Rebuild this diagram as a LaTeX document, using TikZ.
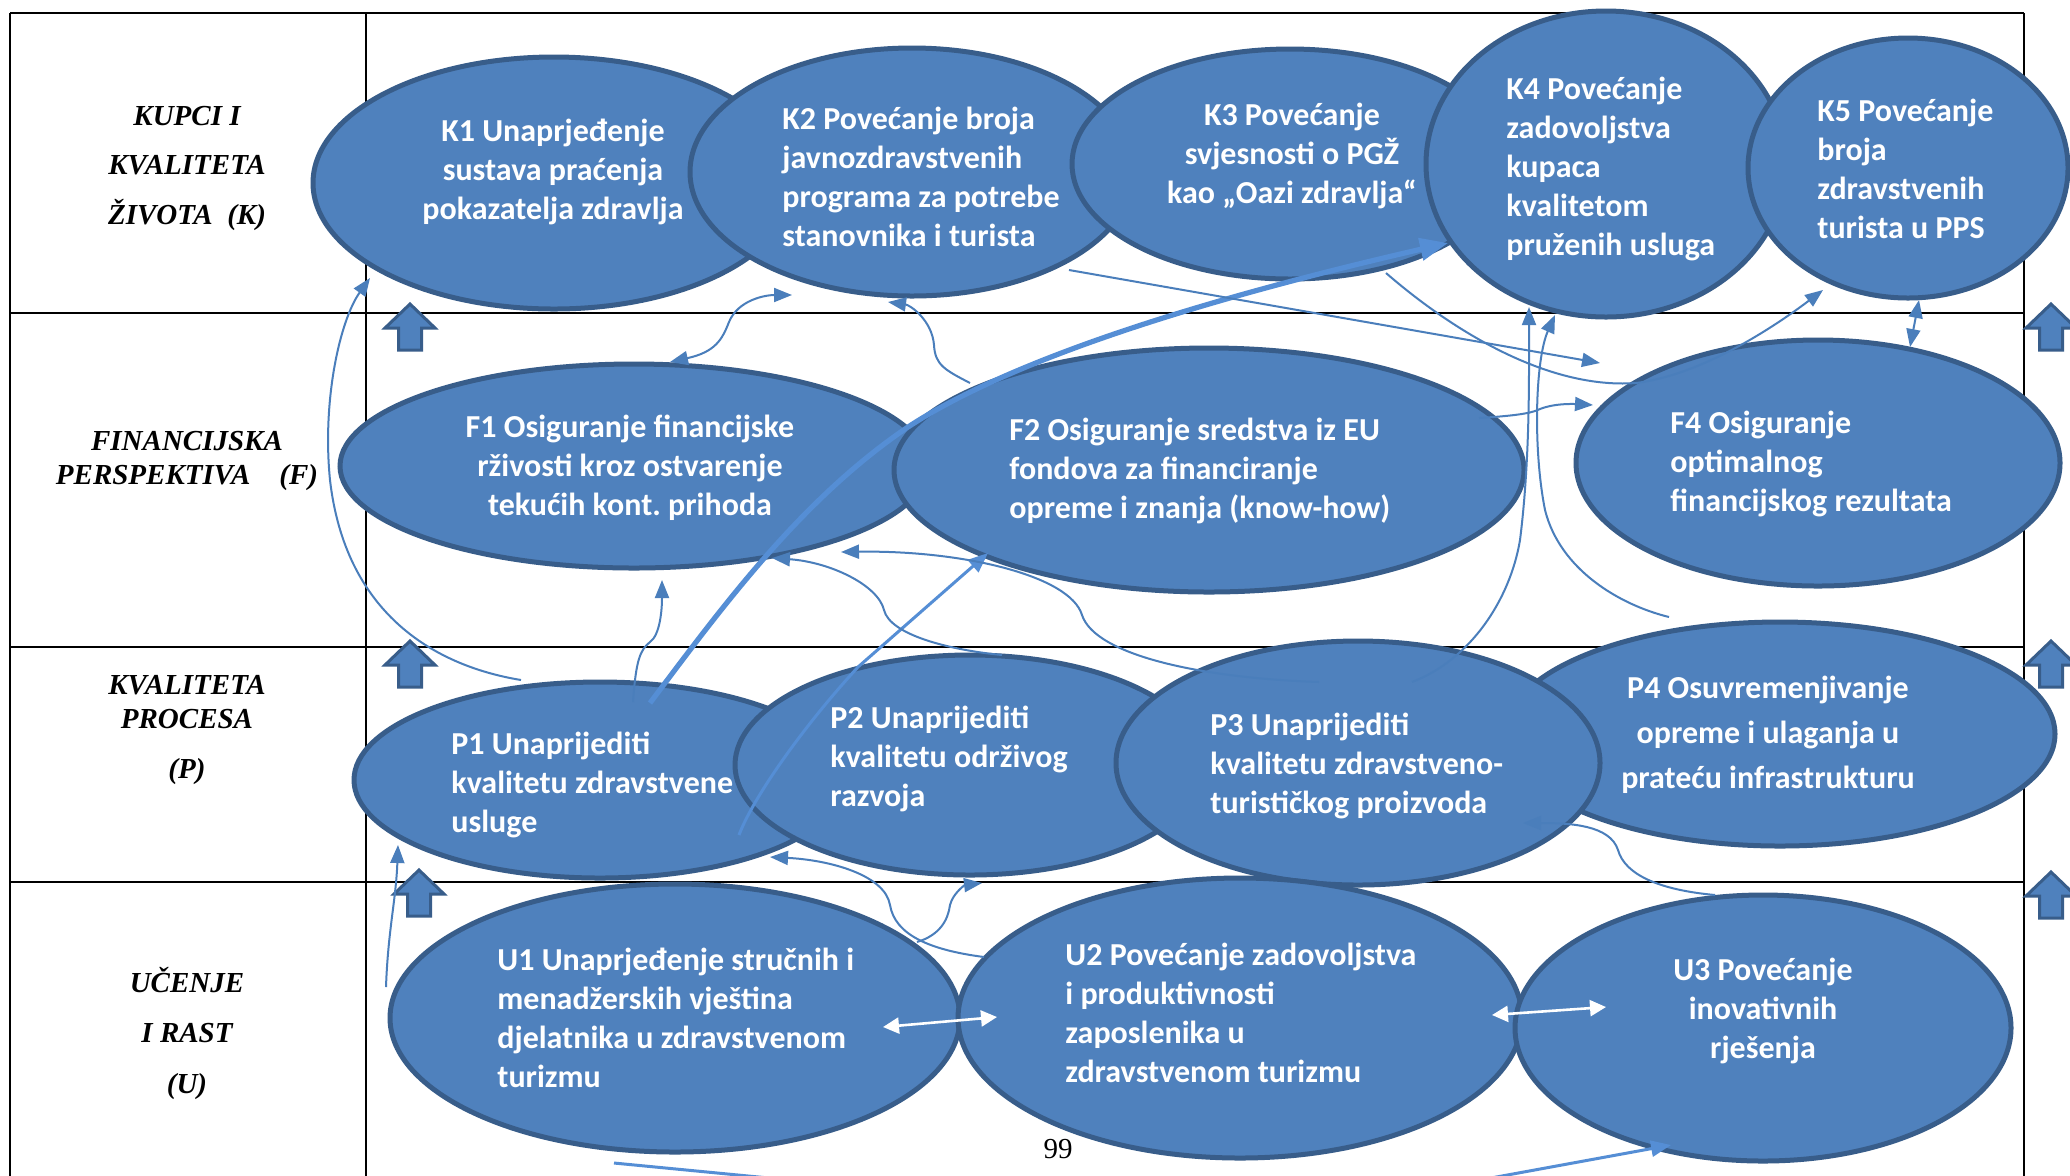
\documentclass[tikz,border=0pt]{standalone}
\usepackage{fontspec}
\setmainfont{Liberation Serif}
\newfontfamily\calib{Carlito}
\usetikzlibrary{arrows.meta,calc,shapes.geometric}
\definecolor{ofill}{HTML}{4F81BD}
\definecolor{oline}{HTML}{385D8A}
\definecolor{conn}{HTML}{4A7EBB}
\definecolor{connb}{HTML}{558ED5}
\begin{document}
\begin{tikzpicture}[x=0.5pt,y=-0.5pt,
  oval/.style={ellipse, draw=oline, fill=ofill, line width=2.5pt, inner sep=0pt},
  otext/.style={font=\calib\bfseries\fontsize{16}{19.5}\selectfont, text=white, inner sep=0pt},
  otextw/.style={otext, align=left, anchor=west},
  otextc/.style={otext, align=center},
  lab/.style={font=\bfseries\itshape\fontsize{14.5}{17}\selectfont, anchor=base, inner sep=0pt},
  gridline/.style={line width=1.1pt, black},
  conn/.style={draw=conn, line width=1pt, -{Triangle[length=9pt,width=7pt]}},
  dconn/.style={draw=conn, line width=1pt, {Triangle[length=9pt,width=7pt]}-{Triangle[length=9pt,width=7pt]}},
  thickconn/.style={draw=connb, line width=2.6pt, -{Triangle[length=14pt,width=11pt]}},
  medconn/.style={draw=connb, line width=1.5pt, -{Triangle[length=10pt,width=8pt]}},
  medline/.style={draw=connb, line width=1.5pt},
  wconn/.style={draw=white, line width=1.3pt, {Triangle[length=8pt,width=8pt]}-{Triangle[length=8pt,width=8pt]}},
  uparr/.pic={\draw[fill=ofill, draw=oline, line width=1.5pt] (0,0) -- (25,24) -- (11.5,24) -- (11.5,46) -- (-11.5,46) -- (-11.5,24) -- (-25,24) -- cycle;}
]
\useasboundingbox (0,0) rectangle (2070,1175);
\clip (0,0) rectangle (2070,1175);
\fill[white] (0,0) rectangle (2070,1175);

% grid
\draw[gridline] (10,13) -- (2024,13);
\draw[gridline] (10,313) -- (2024,313);
\draw[gridline] (10,647) -- (2024,647);
\draw[gridline] (10,882) -- (2024,882);
\draw[gridline] (10,13) -- (10,1180);
\draw[gridline] (366,13) -- (366,1180);
\draw[gridline] (2024,13) -- (2024,1180);

% block arrows
\pic at (410,304) {uparr};
\pic at (410,641) {uparr};
\pic at (419,870) {uparr};
\pic at (2051,304) {uparr};
\pic at (2051,641) {uparr};
\pic at (2051,872) {uparr};

% ellipses
\node[oval, minimum width=241pt, minimum height=126pt] (K1) at (554,183) {};
\node[oval, minimum width=222pt, minimum height=124pt] (K2) at (912,172) {};
\node[oval, minimum width=218pt, minimum height=115pt] (K3) at (1290,164) {};
\node[oval, minimum width=180pt, minimum height=153pt] (K4) at (1606,164) {};
\node[oval, minimum width=160pt, minimum height=130pt] (K5) at (1908,168) {};
\node[oval, minimum width=294pt, minimum height=102pt] (F1) at (634,466) {};
\node[oval, minimum width=315pt, minimum height=122pt] (F2) at (1209,470) {};
\node[oval, minimum width=242pt, minimum height=123pt] (F4) at (1818,463) {};
\node[oval, minimum width=246pt, minimum height=98pt] (P1) at (600,780) {};
\node[oval, minimum width=235pt, minimum height=110pt] (P2) at (970,765) {};
\node[oval, minimum width=275pt, minimum height=112pt] (P4) at (1780,734) {};
\node[oval, minimum width=242pt, minimum height=122pt] (P3) at (1358,763) {};
\node[oval, minimum width=285pt, minimum height=134pt] (U1) at (675,1018) {};
\node[oval, minimum width=282pt, minimum height=140pt] (U2) at (1240,1018) {};
\node[oval, minimum width=248pt, minimum height=133pt] (U3) at (1763,1028) {};

% connectors
\draw[conn] ($(P1.center)+(-79,-100)$) .. controls (430,665) and (345,610) .. (330,480) .. controls (322,400) and (340,320) .. ($(K1.center)+(-184,95)$);
\draw[conn] ($(P1.center)+(33,-78)$) .. controls (636,660) and (640,650) .. (650,642) .. controls (660,635) and (662,610) .. ($(F1.center)+(28,114)$);
\draw[thickconn] ($(P1.center)+(50,-77)$) .. controls (720,610) and (800,500) .. (908,427) .. controls (1010,360) and (1200,300) .. ($(K4.center)+(-158,79)$);
\draw[medconn] ($(P1.center)+(139,55)$) .. controls (752,800) and (800,730) .. (858,667) -- ($(F2.center)+(-221,83)$);
\draw[dconn] ($(F1.center)+(36,-104)$) .. controls (715,352) and (722,340) .. (729,322) .. controls (738,300) and (765,295) .. ($(K2.center)+(-120,123)$);
\draw[conn] ($(F2.center)+(-239,-87)$) .. controls (945,370) and (935,365) .. (934,345) .. controls (932,320) and (910,305) .. ($(K2.center)+(-24,130)$);
\draw[conn] ($(K2.center)+(157,98)$) -- ($(F4.center)+(-218,-100)$);
\draw[conn] ($(K3.center)+(96,109)$) .. controls (1440,320) and (1540,390) .. (1636,383) .. controls (1700,375) and (1770,330) .. ($(K5.center)+(-85,122)$);
\draw[conn] ($(F2.center)+(270,-52)$) .. controls (1510,416) and (1530,414) .. (1540,409) .. controls (1555,403) and (1575,404) .. ($(F4.center)+(-225,-58)$);
\draw[dconn] ($(K5.center)+(11,132)$) -- ($(F4.center)+(92,-116)$);
\draw[conn] ($(P3.center)+(54,-81)$) .. controls (1470,660) and (1510,600) .. (1520,540) .. controls (1530,460) and (1529,380) .. ($(K4.center)+(-77,143)$);
\draw[conn] ($(P4.center)+(-111,-117)$) .. controls (1620,605) and (1560,570) .. (1545,510) .. controls (1533,450) and (1535,360) .. ($(K4.center)+(-51,151)$);
\draw[conn] ($(P3.center)+(-39,-81)$) .. controls (1200,678) and (1095,655) .. (1082,615) .. controls (1070,575) and (960,550) .. ($(F1.center)+(207,86)$);
\draw[conn] ($(P2.center)+(32,-110)$) .. controls (950,650) and (890,635) .. (884,610) .. controls (878,585) and (830,562) .. ($(F1.center)+(138,92)$);
\draw[conn] ($(U2.center)+(-256,-61)$) .. controls (930,950) and (895,935) .. (890,905) .. controls (885,875) and (830,860) .. ($(P1.center)+(170,77)$);
\draw[conn] ($(U1.center)+(242,-76)$) .. controls (940,935) and (948,920) .. (950,905) .. controls (953,893) and (965,885) .. ($(P2.center)+(12,118)$);
\draw[conn] ($(U3.center)+(-48,-133)$) .. controls (1660,890) and (1625,875) .. (1618,850) .. controls (1610,825) and (1570,823) .. ($(P3.center)+(165,60)$);
\draw[conn] ($(U1.center)+(-289,-31)$) .. controls (388,930) and (396,900) .. ($(P1.center)+(-202,65)$);
\draw[wconn] ($(U1.center)+(208,9)$) -- ($(U2.center)+(-243,-1)$);
\draw[wconn] ($(U2.center)+(252,-3)$) -- ($(U3.center)+(-157,-21)$);
\coordinate (b1s) at (614,1163);
\coordinate (b1e) at (800,1181);
\draw[medline] (b1s) -- (b1e);
\coordinate (b2s) at (1480,1180);
\draw[medconn] (b2s) -- ($(U3.center)+(-92,117)$);

% ellipse texts
\node[otextc] (K1t) at (553,172) {K1 Unaprjeđenje\\sustava praćenja\\pokazatelja zdravlja};
\node[otextw] (K2t) at (782,177) {K2 Povećanje broja\\javnozdravstvenih\\programa za potrebe\\stanovnika i turista};
\node[otextc] (K3t) at (1292,156) {K3 Povećanje\\svjesnosti o PGŽ\\kao „Oazi zdravlja“};
\node[otextw] (K4t) at (1506,169) {K4 Povećanje\\zadovoljstva\\kupaca\\kvalitetom\\pruženih usluga};
\node[otextw] (K5t) at (1817,169) {K5 Povećanje\\broja\\zdravstvenih\\turista u PPS};
\node[otextc] (F1t) at (630,468) {F1 Osiguranje financijske\\rživosti kroz ostvarenje\\tekućih kont.\ prihoda};
\node[otextw] (F2t) at (1009,471) {F2 Osiguranje sredstva iz EU\\fondova za financiranje\\opreme i znanja (know-how)};
\node[otextw] (F4t) at (1670,464) {F4 Osiguranje\\optimalnog\\financijskog rezultata};
\node[otextw] (P1t) at (451,785) {P1 Unaprijediti\\kvalitetu zdravstvene\\usluge};
\node[otextw] (P2t) at (830,759) {P2 Unaprijediti\\kvalitetu održivog\\razvoja};
\node[otextw] (P3t) at (1210,766) {P3 Unaprijediti\\kvalitetu zdravstveno-\\turističkog proizvoda};
\node[otextc, font=\calib\bfseries\fontsize{16}{22.5}\selectfont] (P4t) at (1768,735) {P4 Osuvremenjivanje\\opreme i ulaganja u\\prateću infrastrukturu};
\node[otextw] (U1t) at (497,1018) {U1 Unaprjeđenje stručnih i\\menadžerskih vještina\\djelatnika u zdravstvenom\\turizmu};
\node[otextw] (U2t) at (1065,1013) {U2 Povećanje zadovoljstva\\i produktivnosti\\zaposlenika u\\zdravstvenom turizmu};
\node[otextc] (U3t) at (1763,1011) {U3 Povećanje\\inovativnih\\rješenja};

% row labels
\node[lab] (LK1) at (187,125) {KUPCI I};
\node[lab] (LK2) at (187,174) {KVALITETA};
\node[lab] (LK3) at (187,224) {ŽIVOTA\ \ (K)};
\node[lab] (LF1) at (187,450) {FINANCIJSKA};
\node[lab] (LF2) at (187,484) {PERSPEKTIVA\quad(F)};
\node[lab] (LP1) at (187,694) {KVALITETA};
\node[lab] (LP2) at (187,728) {PROCESA};
\node[lab] (LP3) at (187,778) {(P)};
\node[lab] (LU1) at (187,992) {UČENJE};
\node[lab] (LU2) at (187,1042) {I RAST};
\node[lab] (LU3) at (187,1093) {(U)};

\node[font=\fontsize{14.5}{17}\selectfont, anchor=base, inner sep=0pt] (pg) at (1058,1158) {99};
\end{tikzpicture}
\end{document}
